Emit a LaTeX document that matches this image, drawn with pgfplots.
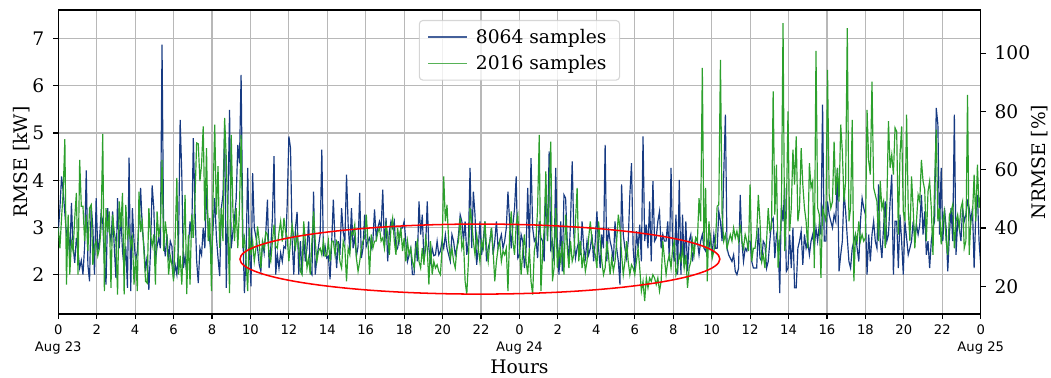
\documentclass[border=0pt]{standalone}
\usepackage{fontspec}
\setmainfont{DejaVu Serif}
\newfontfamily\sansf{DejaVu Sans}
\usepackage{pgfplots}
\pgfplotsset{compat=1.18}
\usepackage{pgfplotstable}
\definecolor{cblue}{RGB}{22,58,130}
\definecolor{cgreen}{RGB}{44,160,44}

% RMSE [kW], 8064 samples, one value every 6/70 h from 0 h to 48 h
\pgfplotstableread[row sep=\\]{
v\\
2.92\\3.40\\4.08\\3.76\\3.30\\2.85\\3.00\\2.35\\3.52\\2.60\\2.25\\2.78\\2.50\\2.14\\2.30\\2.00\\2.60\\4.21\\2.20\\1.86\\
3.48\\3.00\\2.00\\3.62\\2.50\\2.71\\3.30\\3.13\\2.30\\1.79\\3.41\\2.90\\2.71\\3.34\\2.60\\1.93\\3.62\\2.56\\3.27\\2.50\\
2.14\\2.60\\1.72\\4.48\\1.65\\3.41\\2.70\\2.28\\2.50\\3.10\\3.84\\2.99\\2.60\\2.07\\2.40\\1.68\\2.50\\3.89\\3.41\\2.28\\
2.60\\2.78\\2.56\\6.87\\2.71\\2.39\\2.85\\2.30\\2.71\\2.60\\
1.93\\2.20\\2.00\\2.60\\5.28\\4.12\\2.14\\2.40\\2.00\\2.60\\3.13\\2.78\\4.89\\3.41\\2.30\\1.82\\2.56\\2.42\\2.99\\2.56\\
3.84\\3.00\\2.71\\2.35\\3.00\\3.62\\2.80\\2.35\\1.97\\3.41\\3.69\\5.14\\1.72\\3.50\\5.49\\2.56\\2.90\\3.20\\3.60\\4.75\\
4.36\\6.23\\3.00\\1.61\\2.40\\4.26\\2.56\\1.75\\4.15\\2.99\\2.80\\2.56\\2.21\\2.07\\2.71\\2.46\\2.90\\3.59\\2.14\\2.56\\
3.20\\4.51\\2.00\\2.42\\2.14\\2.46\\2.28\\2.60\\2.56\\3.50\\
4.93\\4.68\\2.71\\2.00\\2.99\\3.33\\2.00\\2.71\\2.00\\2.78\\2.28\\2.56\\3.13\\2.07\\2.00\\3.76\\2.00\\2.35\\2.60\\2.85\\
4.65\\2.39\\2.60\\2.35\\2.39\\1.90\\2.70\\3.59\\2.71\\2.14\\2.71\\2.42\\3.41\\2.90\\2.71\\4.12\\3.06\\2.50\\3.41\\2.56\\
2.80\\2.39\\2.60\\3.73\\2.35\\2.56\\3.27\\2.60\\2.71\\2.78\\2.56\\2.71\\3.38\\2.80\\2.99\\3.13\\2.99\\3.80\\2.60\\3.20\\
2.28\\2.92\\3.13\\2.99\\3.13\\2.50\\2.56\\2.78\\2.99\\2.99\\
3.13\\2.71\\2.28\\2.42\\2.56\\2.00\\2.00\\2.71\\2.28\\3.55\\2.85\\3.27\\2.28\\2.56\\3.55\\2.56\\2.28\\2.56\\2.40\\2.42\\
2.71\\2.42\\2.50\\2.71\\2.56\\2.85\\2.56\\2.42\\2.28\\2.85\\2.71\\2.42\\2.56\\2.85\\3.27\\3.13\\2.71\\3.13\\2.42\\2.71\\
4.26\\2.56\\3.76\\3.27\\2.21\\2.56\\3.13\\2.42\\2.71\\3.13\\2.28\\2.56\\2.71\\2.99\\2.42\\2.71\\3.13\\2.56\\2.71\\2.85\\
2.56\\2.71\\2.99\\3.76\\3.13\\2.56\\3.06\\3.40\\4.08\\2.35\\
2.42\\2.85\\2.71\\2.14\\2.50\\3.84\\2.56\\4.47\\2.99\\2.71\\2.78\\2.35\\3.13\\2.78\\2.71\\2.28\\3.91\\2.71\\4.61\\2.56\\
2.71\\2.28\\4.26\\2.56\\2.00\\3.13\\2.07\\3.69\\3.62\\2.71\\2.28\\3.13\\4.40\\2.85\\2.35\\2.56\\2.71\\2.42\\3.13\\2.56\\
2.35\\2.71\\2.42\\2.56\\2.85\\2.28\\2.71\\3.34\\2.56\\2.14\\2.85\\2.56\\4.75\\2.28\\2.99\\2.71\\2.56\\2.28\\3.13\\2.56\\
2.28\\1.79\\3.91\\2.85\\2.56\\2.35\\2.71\\3.69\\4.36\\2.56\\
2.07\\2.92\\2.56\\3.06\\2.28\\4.93\\2.71\\3.06\\2.56\\3.55\\2.28\\3.98\\2.71\\2.78\\3.13\\3.34\\2.56\\2.85\\2.71\\2.71\\
3.13\\2.28\\4.26\\2.56\\2.28\\3.27\\2.00\\4.01\\2.00\\3.27\\2.14\\3.13\\2.07\\2.71\\2.85\\2.28\\2.56\\2.78\\2.71\\2.42\\
2.71\\2.85\\2.56\\2.50\\2.71\\2.56\\2.80\\2.42\\2.85\\2.56\\2.56\\3.34\\3.13\\2.71\\4.12\\5.39\\2.56\\2.42\\2.35\\2.28\\
2.42\\2.07\\2.00\\2.14\\3.69\\2.71\\2.28\\2.56\\2.50\\2.71\\
2.71\\2.28\\2.14\\2.14\\2.14\\2.99\\2.35\\2.28\\2.71\\2.64\\2.14\\2.28\\2.71\\3.13\\3.20\\2.35\\2.85\\2.71\\1.61\\3.48\\
3.13\\3.84\\2.07\\2.14\\2.85\\2.14\\2.99\\1.72\\1.72\\2.56\\2.71\\2.92\\2.21\\2.85\\2.56\\2.71\\2.42\\2.71\\2.85\\2.56\\
2.99\\2.71\\3.06\\2.85\\5.60\\2.71\\2.71\\3.55\\3.27\\3.13\\2.99\\3.27\\3.13\\4.26\\2.07\\2.42\\2.71\\3.76\\3.34\\2.78\\
2.28\\2.14\\2.56\\2.71\\2.85\\2.56\\2.28\\3.13\\3.62\\3.41\\
3.27\\2.00\\2.85\\2.28\\2.85\\3.13\\2.71\\2.56\\3.91\\2.71\\2.35\\2.99\\3.55\\2.71\\2.85\\3.55\\4.12\\2.00\\3.13\\3.13\\
2.14\\3.27\\2.71\\2.00\\3.13\\2.78\\2.42\\2.56\\2.71\\3.13\\2.78\\3.06\\2.85\\3.06\\3.69\\2.85\\3.34\\2.42\\2.71\\2.14\\
2.71\\2.99\\3.13\\5.53\\5.18\\2.85\\4.26\\2.71\\3.41\\2.99\\2.07\\2.85\\3.41\\2.71\\5.39\\2.42\\3.13\\2.99\\2.71\\3.41\\
3.13\\3.27\\3.55\\3.41\\3.13\\3.41\\2.14\\3.27\\3.69\\2.71\\
2.20\\
}\blue

% RMSE [kW], 2016 samples
\pgfplotstableread[row sep=\\]{
v\\
3.00\\2.56\\3.20\\3.76\\4.87\\1.79\\3.27\\2.00\\2.70\\2.50\\3.20\\3.73\\2.00\\4.43\\3.45\\3.45\\2.71\\3.27\\2.50\\3.41\\
3.48\\2.21\\2.60\\2.71\\2.40\\2.56\\3.00\\4.98\\1.65\\3.41\\2.90\\3.34\\1.72\\3.27\\2.90\\2.71\\1.58\\3.55\\3.00\\3.73\\
1.58\\3.48\\2.80\\2.99\\2.60\\2.78\\1.79\\2.40\\1.65\\3.76\\2.90\\3.13\\2.50\\1.86\\1.82\\3.41\\2.85\\2.60\\2.85\\1.79\\
3.34\\2.80\\3.06\\4.43\\2.50\\3.13\\2.80\\2.00\\2.40\\2.21\\
1.86\\2.80\\4.05\\2.00\\2.40\\1.79\\2.71\\3.69\\1.59\\2.85\\1.79\\3.27\\2.78\\3.60\\4.79\\4.77\\3.98\\4.33\\5.14\\3.13\\
4.68\\2.71\\3.20\\1.65\\3.69\\5.18\\3.27\\4.30\\2.56\\3.41\\2.71\\5.32\\4.47\\3.00\\1.61\\4.96\\3.40\\2.71\\3.41\\2.56\\
3.40\\4.96\\2.56\\2.78\\2.28\\1.65\\2.99\\2.42\\2.71\\2.28\\2.56\\3.02\\2.71\\2.14\\2.71\\2.56\\2.90\\2.85\\2.40\\2.28\\
2.70\\3.06\\2.60\\2.56\\2.90\\3.13\\2.70\\3.20\\2.90\\2.78\\
2.28\\2.71\\3.06\\2.78\\2.56\\2.85\\2.56\\2.07\\2.00\\3.13\\2.71\\2.14\\2.35\\2.00\\2.71\\3.34\\2.71\\2.28\\2.50\\2.56\\
2.42\\2.71\\2.39\\2.42\\2.71\\2.28\\2.71\\2.71\\2.42\\2.71\\2.64\\2.28\\2.14\\2.71\\2.56\\1.86\\2.56\\2.42\\2.90\\2.85\\
3.06\\2.35\\2.07\\2.28\\2.56\\2.71\\2.78\\3.27\\2.71\\2.00\\2.85\\2.56\\2.71\\2.71\\2.90\\2.99\\2.71\\2.78\\2.56\\3.06\\
2.85\\2.42\\2.99\\3.20\\2.71\\2.42\\2.99\\2.71\\2.99\\2.50\\
2.78\\2.28\\2.71\\2.42\\2.56\\2.28\\2.14\\2.56\\2.71\\2.28\\2.14\\2.56\\2.21\\2.78\\2.56\\1.79\\2.71\\2.00\\2.28\\2.14\\
2.21\\2.07\\2.00\\2.56\\4.08\\3.13\\3.48\\2.71\\2.35\\2.56\\2.28\\2.14\\2.56\\2.71\\3.20\\2.56\\2.71\\1.86\\1.58\\2.28\\
3.41\\3.13\\2.71\\2.42\\2.85\\2.56\\2.28\\2.71\\2.56\\3.13\\2.56\\2.28\\2.71\\2.99\\2.50\\1.86\\2.28\\2.56\\2.71\\2.28\\
2.50\\2.42\\2.56\\1.65\\2.85\\3.34\\2.71\\2.42\\3.06\\3.27\\
2.56\\2.00\\2.50\\2.85\\2.28\\2.00\\2.56\\1.86\\1.58\\2.50\\2.71\\3.41\\4.96\\1.65\\2.42\\2.99\\4.19\\2.71\\3.69\\4.82\\
1.86\\2.14\\3.41\\2.14\\2.56\\2.28\\2.71\\2.00\\3.27\\2.56\\2.14\\2.71\\2.28\\2.42\\3.13\\3.84\\2.28\\2.71\\2.14\\2.42\\
2.07\\2.28\\2.78\\3.13\\2.71\\2.56\\2.42\\2.14\\3.13\\2.71\\2.28\\2.00\\2.14\\2.71\\2.42\\2.00\\2.35\\2.07\\2.28\\2.71\\
3.27\\2.99\\2.42\\2.00\\2.28\\2.71\\2.28\\2.00\\2.21\\2.14\\
2.00\\2.28\\2.56\\2.14\\1.65\\1.86\\1.44\\1.93\\1.72\\1.93\\1.86\\2.00\\1.93\\1.79\\1.93\\1.65\\1.86\\2.71\\2.35\\2.00\\
2.28\\2.42\\2.14\\2.56\\2.71\\2.00\\2.14\\2.42\\2.28\\2.56\\2.14\\2.42\\1.72\\2.14\\2.28\\2.71\\2.42\\2.78\\2.71\\3.62\\
3.13\\6.38\\2.56\\3.84\\1.86\\3.13\\2.71\\2.35\\2.50\\2.71\\3.45\\3.48\\6.55\\3.27\\2.71\\2.85\\2.56\\2.71\\2.85\\2.71\\
2.99\\2.78\\2.92\\2.71\\3.06\\2.71\\2.56\\2.85\\2.71\\2.50\\
3.91\\2.28\\2.56\\2.56\\2.85\\3.69\\3.13\\2.28\\2.42\\2.14\\2.71\\3.41\\2.92\\2.99\\5.88\\3.27\\4.33\\2.14\\2.71\\3.27\\
7.33\\2.50\\3.27\\5.46\\2.92\\3.41\\4.65\\3.91\\4.93\\3.13\\3.41\\4.68\\3.91\\3.41\\3.13\\2.56\\4.36\\3.84\\3.98\\2.14\\
6.74\\3.41\\3.27\\1.93\\3.41\\3.27\\3.13\\6.34\\3.69\\3.41\\3.55\\4.82\\3.69\\4.26\\3.55\\5.18\\4.61\\3.55\\3.98\\7.22\\
3.13\\3.41\\5.28\\1.86\\2.85\\2.71\\3.13\\2.71\\2.85\\2.71\\
2.78\\5.49\\4.40\\4.12\\6.09\\3.84\\3.69\\3.55\\2.71\\3.98\\3.41\\3.55\\2.56\\3.48\\5.25\\4.26\\4.54\\4.12\\5.11\\5.03\\
2.85\\4.54\\5.14\\3.34\\3.13\\5.39\\3.41\\2.71\\4.08\\3.41\\2.56\\3.13\\3.69\\3.55\\4.43\\3.98\\3.80\\2.71\\3.76\\3.98\\
3.41\\2.42\\3.91\\5.07\\3.13\\3.41\\2.64\\3.13\\3.34\\2.71\\2.42\\3.27\\3.34\\3.48\\2.56\\3.13\\3.27\\2.99\\3.41\\3.55\\
2.56\\2.71\\5.81\\2.42\\3.13\\3.27\\4.12\\3.13\\4.33\\3.41\\
3.70\\
}\green

\begin{document}
\begin{tikzpicture}
\begin{axis}[
  at={(0,0)}, anchor=south west,
  scale only axis, width=666.6pt, height=219.7pt,
  xmin=0, xmax=48, ymin=1.167, ymax=7.607,
  axis line style={line width=0.8pt, black},
  tick style={black, line width=0.8pt},
  tick align=outside, major tick length=3.5pt,
  xtick pos=bottom, ytick pos=left,
  xtick={0,2,...,48},
  xticklabels={{0\\Aug 23},2,4,6,8,10,12,14,16,18,20,22,{0\\Aug 24},2,4,6,8,10,12,14,16,18,20,22,{0\\Aug 25}},
  xticklabel style={font=\sansf\fontsize{9.5}{12}\selectfont, align=center, anchor=north, yshift=-1pt},
  ytick={2,3,4,5,6,7},
  /pgf/number format/assume math mode=true,
  yticklabel style={font=\fontsize{13.5}{16}\selectfont, anchor=east, xshift=-3pt},
  grid=major, major grid style={black!28, line width=0.8pt},
  xlabel={Hours}, ylabel={RMSE [kW]},
  label style={font=\fontsize{13.5}{16}\selectfont},
  xlabel style={at={(axis description cs:0.5,-0.174)}, anchor=center},
  ylabel style={at={(axis description cs:-0.040,0.5)}, anchor=center},
  legend style={at={(0.5,0.967)}, anchor=north, font=\fontsize{13.5}{16}\selectfont,
    draw=black!20, line width=0.8pt, rounded corners=2.5pt, fill=white, fill opacity=0.8,
    draw opacity=0.8, text opacity=1, inner xsep=6pt, inner ysep=4pt, row sep=3.5pt,
    column sep=2.5pt, nodes={inner xsep=3.5pt, inner ysep=2pt}},
  legend cell align=left,
  legend image code/.code={\draw[#1, line width=0.9pt] (0pt,0pt) -- (28pt,0pt);},
]
\addplot[cblue, line width=0.85pt, no marks] table[x expr=\coordindex*0.0857142857, y=v] {\blue};
\addlegendentry{8064 samples}
\addplot[cgreen, line width=0.85pt, no marks] table[x expr=\coordindex*0.0857142857, y=v] {\green};
\addlegendentry{2016 samples}
\coordinate (ec) at (axis cs:21.94,2.33);
\end{axis}
\draw[red, line width=1.1pt] (ec) ellipse [x radius=173.4pt, y radius=25.3pt];
\begin{axis}[
  at={(0,0)}, anchor=south west,
  scale only axis, width=666.6pt, height=219.7pt,
  xmin=0, xmax=48, ymin=10.5, ymax=114.8,
  axis x line=none, axis y line*=right,
  axis line style={line width=0.8pt, black, -},
  tick style={black, line width=0.8pt},
  tick align=outside, major tick length=3.5pt,
  ytick={20,40,60,80,100},
  /pgf/number format/assume math mode=true,
  yticklabel style={font=\fontsize{13.5}{16}\selectfont, anchor=west, xshift=3pt},
  ylabel={NRMSE [\%]},
  label style={font=\fontsize{13.5}{16}\selectfont},
  ylabel style={at={(axis description cs:1.064,0.5)}, anchor=center, rotate=0},
]
\end{axis}
\pgfresetboundingbox
\useasboundingbox (-42.1pt,-46.25pt) rectangle (717.4pt,226.9pt);
\end{tikzpicture}
\end{document}
